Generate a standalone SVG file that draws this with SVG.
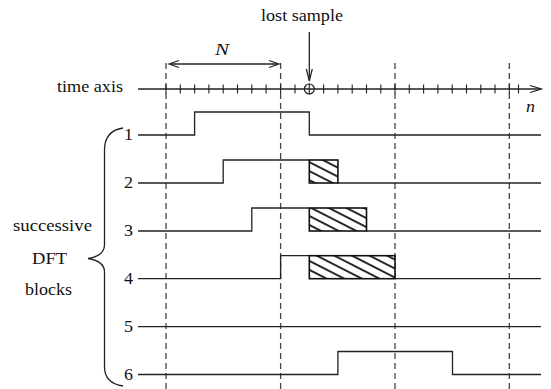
<svg xmlns="http://www.w3.org/2000/svg" width="551" height="389" viewBox="0 0 551 389">
<style>
text{font-family:"Liberation Serif","Times New Roman",serif;font-size:17px;fill:#111}
.it{font-style:italic}
.ln{fill:none;stroke:#222;stroke-width:1.3}
.dash{fill:none;stroke:#444;stroke-width:1.3;stroke-dasharray:6 4}
.tick{stroke:#222;stroke-width:1.1}
.box{fill:url(#hatch);stroke:#111;stroke-width:1.6}
.head{fill:none;stroke:#222;stroke-width:1.2}
</style>
<defs>
<pattern id="hatch" patternUnits="userSpaceOnUse" width="20" height="8" patternTransform="rotate(27)">
<rect width="20" height="8" fill="#fff"/>
<line x1="0" y1="4" x2="20" y2="4" stroke="#111" stroke-width="1.8"/>
</pattern>
</defs>
<rect width="551" height="389" fill="#fff"/>
<g id="dashed-lines">
<line class="dash" x1="166" y1="63" x2="166" y2="389"/>
<line class="dash" x1="280.6" y1="63" x2="280.6" y2="389"/>
<line class="dash" x1="395" y1="63" x2="395" y2="389"/>
<line class="dash" x1="509.3" y1="63" x2="509.3" y2="389"/>
</g>
<g id="time-axis">
<text x="57" y="92" textLength="66" lengthAdjust="spacingAndGlyphs">time axis</text>
<line class="ln" x1="138" y1="89" x2="541" y2="89"/>
<path class="head" d="M530,85.5 L541.5,89 L530,92.5"/>
<g class="tick">
<line x1="166" y1="84.5" x2="166" y2="93.5"/><line x1="180.3" y1="84.5" x2="180.3" y2="93.5"/><line x1="194.6" y1="84.5" x2="194.6" y2="93.5"/><line x1="208.9" y1="84.5" x2="208.9" y2="93.5"/><line x1="223.2" y1="84.5" x2="223.2" y2="93.5"/><line x1="237.5" y1="84.5" x2="237.5" y2="93.5"/><line x1="251.8" y1="84.5" x2="251.8" y2="93.5"/><line x1="266.1" y1="84.5" x2="266.1" y2="93.5"/><line x1="280.6" y1="84.5" x2="280.6" y2="93.5"/><line x1="295" y1="84.5" x2="295" y2="93.5"/><line x1="309.3" y1="83.5" x2="309.3" y2="94.5"/><line x1="323.6" y1="84.5" x2="323.6" y2="93.5"/><line x1="337.9" y1="84.5" x2="337.9" y2="93.5"/><line x1="352.2" y1="84.5" x2="352.2" y2="93.5"/><line x1="366.5" y1="84.5" x2="366.5" y2="93.5"/><line x1="380.8" y1="84.5" x2="380.8" y2="93.5"/><line x1="395" y1="84.5" x2="395" y2="93.5"/><line x1="409.3" y1="84.5" x2="409.3" y2="93.5"/><line x1="423.6" y1="84.5" x2="423.6" y2="93.5"/><line x1="437.9" y1="84.5" x2="437.9" y2="93.5"/><line x1="452.2" y1="84.5" x2="452.2" y2="93.5"/><line x1="466.5" y1="84.5" x2="466.5" y2="93.5"/><line x1="480.8" y1="84.5" x2="480.8" y2="93.5"/><line x1="495" y1="84.5" x2="495" y2="93.5"/><line x1="509.3" y1="84.5" x2="509.3" y2="93.5"/><line x1="518.5" y1="84.5" x2="518.5" y2="93.5"/>
</g>
<circle cx="309.3" cy="89" r="5" fill="none" stroke="#222" stroke-width="1.2"/>
<text class="it" x="526" y="112" textLength="9" lengthAdjust="spacingAndGlyphs">n</text>
</g>
<g id="block-length">
<line class="ln" x1="170" y1="64" x2="278" y2="64"/>
<path class="head" d="M179,60.5 L169,64 L179,67.5"/>
<path class="head" d="M269,60.5 L279,64 L269,67.5"/>
<text class="it" x="215" y="55" textLength="14" lengthAdjust="spacingAndGlyphs">N</text>
</g>
<g id="lost-sample">
<text x="261" y="21" textLength="82" lengthAdjust="spacingAndGlyphs">lost sample</text>
<line class="ln" x1="309.3" y1="32" x2="309.3" y2="80"/>
<path class="head" d="M306.3,69 L309.3,81 L312.3,69"/>
</g>
<g id="brace">
<path class="ln" d="M123,128 C110,130 104.5,138 104.5,150 L104.5,245 C104.5,253 97,257 88,258.5 C97,260 104.5,264 104.5,272 L104.5,367 C104.5,378 110,384 123,386"/>
<text x="13" y="231" textLength="79" lengthAdjust="spacingAndGlyphs">successive</text>
<text x="32" y="264" textLength="35" lengthAdjust="spacingAndGlyphs">DFT</text>
<text x="25" y="295" textLength="47" lengthAdjust="spacingAndGlyphs">blocks</text>
</g>
<g id="block-1">
<text x="124" y="139.5" textLength="9" lengthAdjust="spacingAndGlyphs">1</text>
<path class="ln" d="M138,135 H194.6 V112 H309.3 V135 H541"/>
</g>
<g id="block-2">
<text x="124" y="187.5" textLength="9" lengthAdjust="spacingAndGlyphs">2</text>
<path class="ln" d="M138,183 H223.2 V160 H309.3"/>
<line class="ln" x1="337.9" y1="183" x2="541" y2="183"/>
<rect class="box" x="309.3" y="160" width="28.6" height="23"/>
</g>
<g id="block-3">
<text x="124" y="235.5" textLength="9" lengthAdjust="spacingAndGlyphs">3</text>
<path class="ln" d="M138,231 H251.8 V208 H309.3"/>
<line class="ln" x1="366.5" y1="231" x2="541" y2="231"/>
<rect class="box" x="309.3" y="208" width="57.2" height="23"/>
</g>
<g id="block-4">
<text x="124" y="283.5" textLength="9" lengthAdjust="spacingAndGlyphs">4</text>
<path class="ln" d="M138,278.7 H280.6 V255.7 H309.3"/>
<line class="ln" x1="395" y1="278.7" x2="541" y2="278.7"/>
<rect class="box" x="309.3" y="255.7" width="85.7" height="23"/>
</g>
<g id="block-5">
<text x="124" y="331.5" textLength="9" lengthAdjust="spacingAndGlyphs">5</text>
<line class="ln" x1="138" y1="326.6" x2="541" y2="326.6"/>
</g>
<g id="block-6">
<text x="124" y="379.5" textLength="9" lengthAdjust="spacingAndGlyphs">6</text>
<path class="ln" d="M138,374.5 H337.9 V351.5 H452.5 V374.5 H541"/>
</g>
</svg>
